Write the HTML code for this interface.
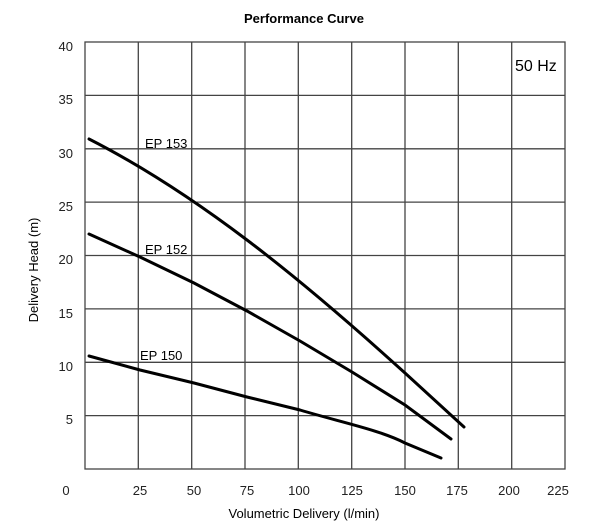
<!DOCTYPE html>
<html><head><style>body{margin:0;background:#fff}</style></head><body>
<svg width="600" height="525" xmlns="http://www.w3.org/2000/svg" font-family="Liberation Sans, sans-serif">
<rect width="600" height="525" fill="#fff"/>
<text x="304" y="23" font-size="13" font-weight="bold" text-anchor="middle">Performance Curve</text>
<g stroke="#444" stroke-width="1.3" fill="none">
<rect x="85" y="42" width="480" height="427"/>
<path d="M138.3 42V469M191.7 42V469M245 42V469M298.3 42V469M351.7 42V469M405 42V469M458.3 42V469M511.7 42V469"/>
<path d="M85 95.4H565M85 148.8H565M85 202.1H565M85 255.5H565M85 308.9H565M85 362.3H565M85 415.6H565"/>
</g>
<g font-size="13" text-anchor="end" fill="#222">
<text x="73" y="51">40</text><text x="73" y="104">35</text><text x="73" y="158">30</text><text x="73" y="211">25</text><text x="73" y="264">20</text><text x="73" y="318">15</text><text x="73" y="371">10</text><text x="73" y="424">5</text>
</g>
<g font-size="13" text-anchor="middle" fill="#222">
<text x="66" y="495">0</text><text x="140" y="495">25</text><text x="194" y="495">50</text><text x="247" y="495">75</text><text x="299" y="495">100</text><text x="352" y="495">125</text><text x="405" y="495">150</text><text x="457" y="495">175</text><text x="509" y="495">200</text><text x="558" y="495">225</text>
</g>
<text x="304" y="518" font-size="13" text-anchor="middle">Volumetric Delivery (l/min)</text>
<text transform="translate(38,270) rotate(-90)" font-size="13" text-anchor="middle">Delivery Head (m)</text>
<text x="515" y="71" font-size="16">50 Hz</text>
<g stroke="#000" stroke-width="3" fill="none" stroke-linecap="round">
<path d="M89 139C140 165 194 200 247 240S352 325 405 373L464 427"/>
<path d="M89 234L140 257L194 283L247 311L300 341L352 372L405 405L451 439"/>
<path d="M89 356L140 370L194 383L247 397L300 410C340 422 380 430 405 443L441 458"/>
</g>
<g font-size="13" fill="#000">
<text x="145" y="148">EP 153</text><text x="145" y="254">EP 152</text><text x="140" y="360">EP 150</text>
</g>
</svg>
</body></html>
